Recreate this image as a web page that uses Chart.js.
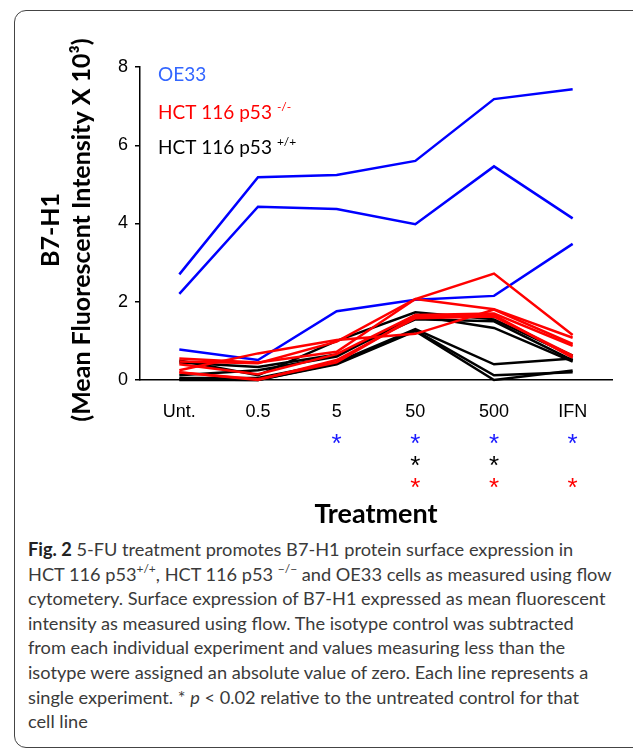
<!DOCTYPE html>
<html>
<head>
<meta charset="utf-8">
<script src="https://cdn.jsdelivr.net/npm/chart.js@4"></script>
<style>
  body { margin: 0; background: #fff; }
  #wrap { position: relative; width: 633px; height: 753px; overflow: hidden; }
  #frame { position: absolute; left: 14px; top: 10px; width: 640px; height: 738px;
           border: 1.5px solid #444; border-radius: 12px; box-sizing: border-box; }
  #chart-box { position: absolute; left: 0; top: 0; width: 633px; height: 530px; }
  #caption { position: absolute; left: 28px; top: 537px; font-family: Lato, sans-serif;
             font-size: 18.2px; line-height: 24.6px; color: #3a3a3a; white-space: nowrap; }
  #caption b { color: #222; }
  #caption sup { font-size: 12px; line-height: 0; position: relative; top: -1px; }
</style>
</head>
<body>
<div id="wrap">
  <div id="frame"></div>
  <div id="chart-box"><canvas id="b7h1-chart"></canvas></div>
  <div id="caption">
    <b>Fig. 2</b> 5-FU treatment promotes B7-H1 protein surface expression in<br>
    HCT 116 p53<sup>+/+</sup>, HCT 116 p53 <sup>&minus;/&minus;</sup> and OE33 cells as measured using flow<br>
    cytometery. Surface expression of B7-H1 expressed as mean fluorescent<br>
    intensity as measured using flow. The isotype control was subtracted<br>
    from each individual experiment and values measuring less than the<br>
    isotype were assigned an absolute value of zero. Each line represents a<br>
    single experiment. * <i>p</i> &lt; 0.02 relative to the untreated control for that<br>
    cell line
  </div>
</div>
<script>
// Categories
var treatments = ['Unt.', '0.5', '5', '50', '500', 'IFN'];
var yTicks = [0, 2, 4, 6, 8];

// OE33 runs
var oe33A = [2.7, 5.18, 5.24, 5.6, 7.18, 7.43];
var oe33B = [2.2, 4.43, 4.37, 3.98, 5.46, 4.13];
var oe33C = [0.78, 0.51, 1.76, 2.05, 2.15, 3.48];

// HCT 116 p53 -/- runs
var nullA = [0.25, 0.68, 1.02, 1.18, 1.8, 0.92];
var nullB = [0.55, 0.45, 0.72, 2.07, 2.72, 1.15];
var nullC = [0.47, 0.43, 0.98, 2.07, 1.81, 1.08];
var nullD = [0.4, 0.15, 0.66, 1.66, 1.7, 0.87];
var nullE = [0.2, 0.0, 0.51, 1.58, 1.62, 0.62];
var nullF = [0.19, 0.02, 0.45, 1.62, 1.66, 0.57];

// HCT 116 p53 +/+ runs
var wtA = [0.5, 0.12, 1.0, 1.73, 1.55, 0.62];
var wtB = [0.45, 0.33, 0.65, 1.55, 1.5, 0.5];
var wtC = [0.12, 0.25, 0.6, 1.65, 1.33, 0.47];
var wtD = [0.05, 0.05, 0.45, 1.3, 0.4, 0.55];
var wtE = [0.02, 0.0, 0.42, 1.27, 0.12, 0.2];
var wtF = [0.0, 0.0, 0.4, 1.25, 0.0, 0.24];

// p < 0.02 markers per treatment
var sigOE33 = [0, 0, 1, 1, 1, 1];
var sigWt = [0, 0, 0, 1, 1, 0];
var sigNull = [0, 0, 0, 1, 1, 1];

// Colors
var blue = '#0000ff';
var red = '#ff0000';
var black = '#000000';

function run(values, color) {
  return {
    data: values,
    borderColor: color,
    borderWidth: 2.5,
    pointRadius: 0,
    tension: 0,
    fill: false,
    clip: false
  };
}

var datasets = [
  run(nullA, red), run(nullB, red), run(nullC, red), run(nullD, red), run(nullE, red), run(nullF, red),
  run(oe33A, blue), run(oe33B, blue), run(oe33C, blue),
  run(wtA, black), run(wtB, black), run(wtC, black), run(wtD, black), run(wtE, black), run(wtF, black)
];

function textWithSup(ctx, x, y, main, sup, color, size) {
  ctx.fillStyle = color;
  ctx.font = size + 'px Lato';
  ctx.textAlign = 'left';
  ctx.textBaseline = 'middle';
  ctx.fillText(main, x, y);
  var w = ctx.measureText(main).width;
  if (sup) {
    ctx.font = '12px Lato';
    ctx.fillText(sup, x + w + 5, y - 6);
  }
}

var figureText = {
  id: 'figureText',
  afterDraw: function (chart) {
    var ctx = chart.ctx;
    var xs = chart.scales.x;
    ctx.save();

    // y axis title, two lines
    ctx.save();
    ctx.translate(0, 230);
    ctx.rotate(-Math.PI / 2);
    ctx.fillStyle = black;
    ctx.textAlign = 'center';
    ctx.textBaseline = 'middle';
    ctx.font = 'bold 25px Lato';
    ctx.fillText('B7-H1', 0, 51);
    ctx.fillText('(Mean Fluorescent Intensity X 10\u00B3)', 0, 82);
    ctx.restore();

    // legend inside the plot
    textWithSup(ctx, 158, 75, 'OE33', '', '#3366ff', 19);
    textWithSup(ctx, 158, 113, 'HCT 116 p53', '-/-', red, 19);
    textWithSup(ctx, 158, 148, 'HCT 116 p53', '+/+', black, 19);

    // significance asterisks
    var rows = [[sigOE33, '#1a1aff', 437], [sigWt, black, 459], [sigNull, red, 481]];
    ctx.font = '26px "Liberation Sans"';
    ctx.textAlign = 'center';
    ctx.textBaseline = 'alphabetic';
    rows.forEach(function (row) {
      ctx.fillStyle = row[1];
      row[0].forEach(function (s, i) {
        if (s) ctx.fillText('*', xs.getPixelForValue(i), row[2] + 14.5);
      });
    });

    // x axis title
    ctx.fillStyle = black;
    ctx.font = 'bold 27px Lato';
    ctx.textBaseline = 'middle';
    ctx.fillText('Treatment', (chart.chartArea.left + chart.chartArea.right) / 2, 514);
    ctx.restore();
  }
};

var b7h1Chart = new Chart(document.getElementById('b7h1-chart'), {
  type: 'line',
  data: {
    labels: treatments,
    datasets: datasets
  },
  options: {
    responsive: true,
    maintainAspectRatio: false,
    animation: false,
    layout: { padding: { left: 0, right: 21, top: 67, bottom: 0 } },
    plugins: {
      legend: { display: false },
      tooltip: { enabled: false }
    },
    scales: {
      x: {
        offset: true,
        grid: { display: false, drawTicks: false },
        border: { display: true, color: black, width: 1.5 },
        ticks: { color: black, padding: 21, font: { family: 'Liberation Sans', size: 18 } },
        afterFit: function (scale) { scale.height = 530 - 380; }
      },
      y: {
        min: 0,
        max: 8,
        afterBuildTicks: function (scale) {
          scale.ticks = yTicks.map(function (v) { return { value: v }; });
        },
        grid: { drawOnChartArea: false, drawTicks: true, tickLength: 5, color: black, lineWidth: 1.5 },
        border: { display: true, color: black, width: 1.5 },
        ticks: { color: black, padding: 7, font: { family: 'Liberation Sans', size: 18 } },
        afterFit: function (scale) { scale.width = 140; }
      }
    }
  },
  plugins: [figureText]
});
</script>
</body>
</html>
